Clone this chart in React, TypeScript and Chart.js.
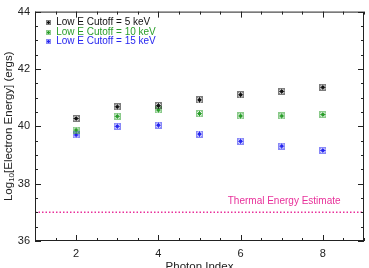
import React, { useEffect, useRef } from "react";
import { Chart, registerables } from "chart.js";

Chart.register(...registerables);

// Photon index on the x axis
const photonIndex = [2, 3, 4, 5, 6, 7, 8];
// log10 of the electron energy (ergs) for each low-energy cutoff
const cutoff5 = [40.27, 40.68, 40.72, 40.92, 41.1, 41.22, 41.36];
const cutoff10 = [39.87, 40.35, 40.57, 40.44, 40.36, 40.36, 40.41];
const cutoff15 = [39.7, 40.0, 40.04, 39.73, 39.48, 39.31, 39.16];
const thermalEstimate = 37.0;

const seriesLabels = [
  "Low E Cutoff = 5 keV",
  "Low E Cutoff = 10 keV",
  "Low E Cutoff = 15 keV",
];
const seriesColors = ["#111111", "#2a9e2a", "#2626f0"];
const thermalColor = "#e8309a";
const thermalLabel = "Thermal Energy Estimate";

const xTicks = [2, 4, 6, 8];
const yTicks = [36, 38, 40, 42, 44];
const xRange = [1, 9];
const yRange = [36, 44];

const FONT = "'Liberation Sans', Arial, Helvetica, sans-serif";

function makeMarker(color: string, size: number): HTMLCanvasElement {
  const c = document.createElement("canvas");
  c.width = size;
  c.height = size;
  const g = c.getContext("2d")!;
  const m = size / 2;
  g.strokeStyle = color;
  g.globalAlpha = 0.55;
  g.lineWidth = 1;
  g.strokeRect(0.5, 0.5, size - 1, size - 1);
  g.globalAlpha = 1;
  g.beginPath();
  g.moveTo(1, m);
  g.lineTo(size - 1, m);
  g.moveTo(m, 1);
  g.lineTo(m, size - 1);
  g.moveTo(1.5, 1.5);
  g.lineTo(size - 1.5, size - 1.5);
  g.moveTo(size - 1.5, 1.5);
  g.lineTo(1.5, size - 1.5);
  g.stroke();
  return c;
}

const markers: HTMLCanvasElement[] = seriesColors.map((c) => makeMarker(c, 7));
const legendMarkers: HTMLCanvasElement[] = seriesColors.map((c) => makeMarker(c, 5));

const framePlugin = {
  id: "frameAndAnnotations",
  afterDraw(chart: any) {
    const ctx = chart.ctx as CanvasRenderingContext2D;
    const { left, right, top, bottom } = chart.chartArea;
    const xs = chart.scales.x;
    const ys = chart.scales.y;
    ctx.save();
    ctx.strokeStyle = "#222";
    ctx.lineWidth = 1;
    ctx.strokeRect(left + 0.5, top + 0.5, right - left - 1, bottom - top - 1);

    ctx.beginPath();
    // inward ticks every 0.5, longer on the labelled values
    for (let v = xRange[0]; v <= xRange[1] + 1e-9; v += 0.5) {
      const px = Math.round(xs.getPixelForValue(v)) + 0.5;
      const len = xTicks.includes(v) ? 6 : 3;
      ctx.moveTo(px, bottom);
      ctx.lineTo(px, bottom - len);
      ctx.moveTo(px, top);
      ctx.lineTo(px, top + len);
    }
    for (let v = yRange[0]; v <= yRange[1] + 1e-9; v += 0.5) {
      const py = Math.round(ys.getPixelForValue(v)) + 0.5;
      const len = yTicks.includes(v) ? 6 : 3;
      ctx.moveTo(left, py);
      ctx.lineTo(left + len, py);
      ctx.moveTo(right, py);
      ctx.lineTo(right - len, py);
    }
    ctx.stroke();

    // legend
    ctx.font = `10px ${FONT}`;
    ctx.textBaseline = "middle";
    ctx.textAlign = "left";
    const lx = xs.getPixelForValue(1.32);
    seriesLabels.forEach((lab, i) => {
      const ly = 22.5 + i * 9.5;
      const m = legendMarkers[i];
      ctx.drawImage(m, Math.round(lx - 2.5), Math.round(ly - 2.5));
      ctx.fillStyle = seriesColors[i];
      ctx.fillText(lab, lx + 8, ly);
    });

    // thermal label
    ctx.fillStyle = thermalColor;
    ctx.textAlign = "right";
    ctx.textBaseline = "middle";
    ctx.fillText(
      thermalLabel,
      xs.getPixelForValue(8.43),
      ys.getPixelForValue(thermalEstimate) - 11
    );

    // axis titles
    ctx.fillStyle = "#222";
    ctx.font = `11.5px ${FONT}`;
    ctx.textAlign = "center";
    ctx.textBaseline = "alphabetic";
    ctx.fillText("Photon Index", (left + right) / 2, 270);

    // y title with subscript
    const main1 = "Log";
    const sub = "10";
    const main2 = "[Electron Energy] (ergs)";
    ctx.font = `11.5px ${FONT}`;
    const w1 = ctx.measureText(main1).width;
    const w3 = ctx.measureText(main2).width;
    ctx.font = `8px ${FONT}`;
    const w2 = ctx.measureText(sub).width;
    const total = w1 + w2 + w3;
    ctx.translate(11.5, (top + bottom) / 2);
    ctx.rotate(-Math.PI / 2);
    ctx.textAlign = "left";
    let x0 = -total / 2;
    ctx.font = `11.5px ${FONT}`;
    ctx.fillText(main1, x0, 0);
    x0 += w1;
    ctx.font = `8px ${FONT}`;
    ctx.fillText(sub, x0, 2.5);
    x0 += w2;
    ctx.font = `11.5px ${FONT}`;
    ctx.fillText(main2, x0, 0);
    ctx.restore();
  },
};

export default function App() {
  const ref = useRef<HTMLCanvasElement | null>(null);
  useEffect(() => {
    document.body.style.margin = "0";
    const canvas = ref.current!;
    const series = [cutoff5, cutoff10, cutoff15];
    const chart = new Chart(canvas, {
      type: "scatter",
      data: {
        datasets: [
          ...series.map((vals, i) => ({
            label: seriesLabels[i],
            data: photonIndex.map((x, j) => ({ x, y: vals[j] })),
            pointStyle: markers[i],
            borderColor: seriesColors[i],
            backgroundColor: seriesColors[i],
            showLine: false,
          })),
          {
            type: "line" as const,
            label: thermalLabel,
            data: [
              { x: xRange[0], y: thermalEstimate },
              { x: xRange[1], y: thermalEstimate },
            ],
            borderColor: thermalColor,
            borderWidth: 1.5,
            borderDash: [1.5, 2],
            pointRadius: 0,
            showLine: true,
          },
        ],
      },
      options: {
        animation: false,
        responsive: false,
        layout: { padding: { top: 5, right: 4, left: 0, bottom: 0 } },
        plugins: { legend: { display: false }, tooltip: { enabled: false } },
        scales: {
          x: {
            type: "linear",
            min: xRange[0],
            max: xRange[1],
            grid: { display: false, drawTicks: false },
            border: { display: false },
            afterBuildTicks: (s: any) => {
              s.ticks = xTicks.map((value) => ({ value }));
            },
            afterFit: (s: any) => {
              s.height = 27;
            },
            ticks: {
              padding: 6,
              color: "#222",
              font: { family: FONT, size: 11 },
              maxRotation: 0,
            },
          },
          y: {
            type: "linear",
            min: yRange[0],
            max: yRange[1],
            grid: { display: false, drawTicks: false },
            border: { display: false },
            afterBuildTicks: (s: any) => {
              s.ticks = yTicks.map((value) => ({ value }));
            },
            afterFit: (s: any) => {
              s.width = 35;
            },
            ticks: {
              padding: 5,
              color: "#222",
              font: { family: FONT, size: 11 },
            },
          },
        },
      },
      plugins: [framePlugin],
    });
    return () => chart.destroy();
  }, []);
  return (
    <canvas
      ref={ref}
      width={369}
      height={268}
      style={{ display: "block", width: 369, height: 268 }}
    />
  );
}
